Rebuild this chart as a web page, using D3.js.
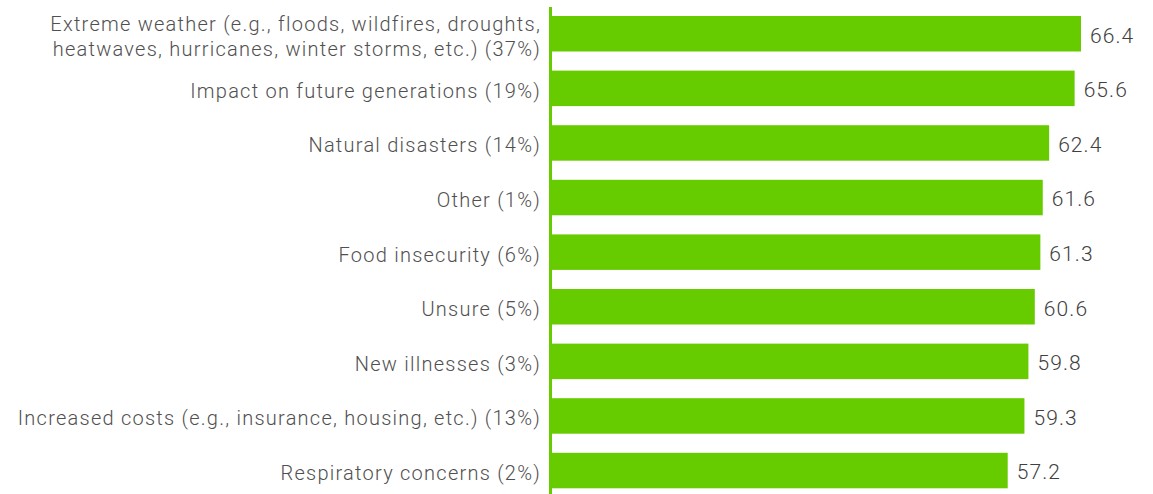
<!DOCTYPE html>
<html>
<head>
<meta charset="utf-8">
<script src="https://cdn.jsdelivr.net/npm/d3@7"></script>
<style>
  html, body { margin: 0; padding: 0; background: #fff; }
  svg { display: block; }
  .label { font-family: Roboto, "Helvetica Neue", Arial, sans-serif; font-weight: 300; font-size: 20px; letter-spacing: 1.25px; fill: #505050; }
  .value { font-family: Roboto, "Helvetica Neue", Arial, sans-serif; font-weight: 300; font-size: 21px; letter-spacing: 1.1px; fill: #404040; }
</style>
</head>
<body>
<svg id="chart" width="1153" height="494"></svg>
<script>
// Climate concerns: mean score per concern, share of respondents in the label
const categories = [
  ["Extreme weather (e.g., floods, wildfires, droughts,", "heatwaves, hurricanes, winter storms, etc.) (37%)"],
  ["Impact on future generations (19%)"],
  ["Natural disasters (14%)"],
  ["Other (1%)"],
  ["Food insecurity (6%)"],
  ["Unsure (5%)"],
  ["New illnesses (3%)"],
  ["Increased costs (e.g., insurance, housing, etc.) (13%)"],
  ["Respiratory concerns (2%)"]
];
const values = [66.4, 65.6, 62.4, 61.6, 61.3, 60.6, 59.8, 59.3, 57.2];

const green = "#66cc00";
const svg = d3.select("#chart");
const keys = categories.map((c, i) => i);

const x = d3.scaleLinear().domain([0, 66.4]).range([552, 1081]);
const y = d3.scaleBand().domain(keys).range([6.45, 497.85]).paddingInner(0.35).paddingOuter(0.175);

// bars
svg.append("g").selectAll("rect")
  .data(values)
  .join("rect")
  .attr("x", x(0))
  .attr("y", (d, i) => y(i))
  .attr("width", d => x(d) - x(0))
  .attr("height", y.bandwidth())
  .attr("fill", green);

// value labels
svg.append("g").selectAll("text")
  .data(values)
  .join("text")
  .attr("class", "value")
  .attr("x", d => x(d) + 9)
  .attr("y", (d, i) => y(i) + y.bandwidth() / 2 + 1.5)
  .attr("dy", "0.35em")
  .text(d => d.toFixed(1));

// category labels (may span two lines)
const lineH = 25;
const labelX = 541;
svg.append("g").selectAll("text")
  .data(categories)
  .join("text")
  .attr("class", "label")
  .attr("text-anchor", "end")
  .attr("x", labelX)
  .attr("y", (d, i) => y(i) + y.bandwidth() / 2 + 2.5)
  .each(function(lines) {
    const t = d3.select(this);
    lines.forEach((ln, j) => {
      t.append("tspan")
        .attr("x", labelX)
        .attr("dy", j === 0 ? `${0.35 - (lines.length - 1) * lineH / 2 / 20}em` : `${lineH}px`)
        .text(ln);
    });
  });

// vertical axis line
svg.append("line")
  .attr("x1", 550.5).attr("x2", 550.5)
  .attr("y1", 7).attr("y2", 494)
  .attr("stroke", green)
  .attr("stroke-width", 3);
</script>
</body>
</html>
